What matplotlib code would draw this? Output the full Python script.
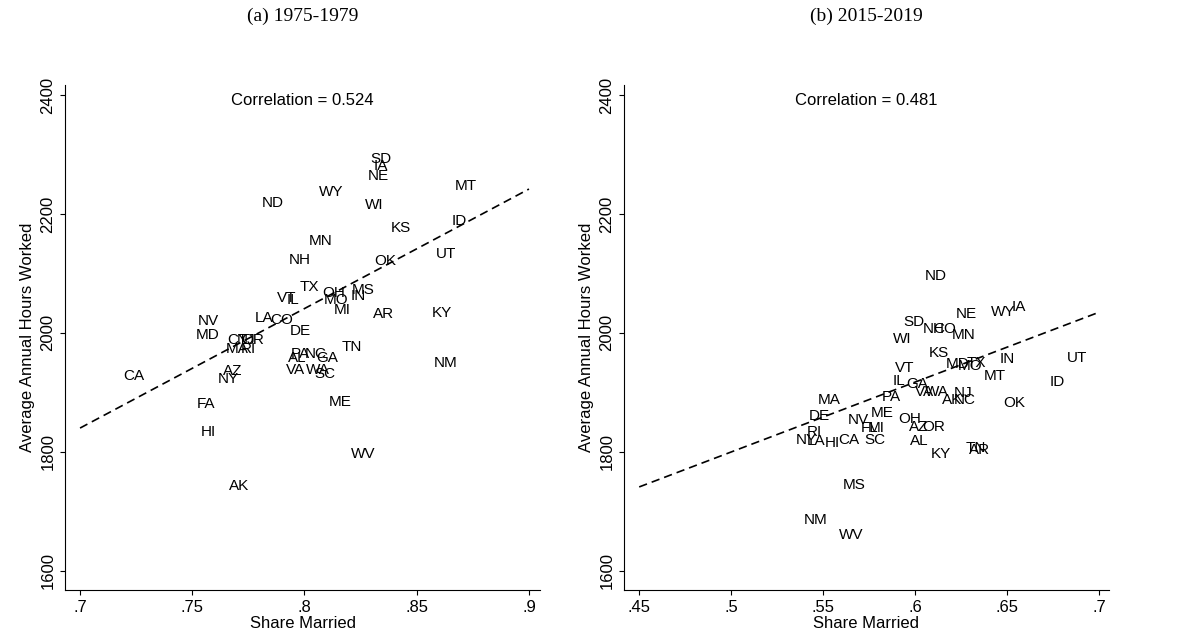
import numpy as np
from matplotlib import pyplot as plt

plt.rcParams['font.family'] = ['Liberation Sans', 'DejaVu Sans']

# panel (a) 1975-1979
states_a = ["SD", "IA", "NE", "MT", "WY", "ND", "WI", "ID", "KS", "MN", "NH", "OK", "UT",
            "TX", "VT", "IL", "OH", "MS", "IN", "MO", "MI", "AR", "KY", "LA", "CO", "NV",
            "DE", "MD", "CT", "OR", "NJ", "MA", "RI", "TN", "PA", "NC", "AL", "GA", "NM",
            "VA", "WA", "SC", "AZ", "NY", "CA", "FA", "ME", "HI", "WV", "AK"]
married_a = [.834, .834, .833, .872, .812, .786, .831, .869, .843, .807, .798, .836, .863,
             .802, .792, .795, .813, .826, .824, .814, .817, .835, .861, .782, .790, .757,
             .798, .757, .770, .777, .774, .770, .775, .821, .798, .805, .797, .810, .863,
             .796, .806, .809, .768, .766, .724, .756, .816, .757, .826, .771]
hours_a = [2292, 2280, 2264, 2247, 2237, 2218, 2216, 2188, 2176, 2155, 2123, 2121, 2133,
           2077, 2059, 2055, 2067, 2072, 2062, 2055, 2039, 2032, 2034, 2025, 2022, 2020,
           2003, 1997, 1988, 1988, 1988, 1973, 1973, 1976, 1965, 1965, 1958, 1958, 1950,
           1938, 1938, 1931, 1936, 1923, 1928, 1881, 1884, 1834, 1797, 1743]
fit_a = [(.7, 1840), (.9, 2242)]   # fitted line as shown (weighted fit)

# panel (b) 2015-2019
states_b = ["ND", "IA", "WY", "NE", "SD", "NH", "CO", "MN", "WI", "KS", "VT", "MD", "TX",
            "MO", "IN", "MT", "IL", "GA", "VA", "WA", "NJ", "AK", "NC", "OK", "UT", "ID",
            "MA", "PA", "DE", "ME", "NV", "OH", "RI", "FL", "MI", "AZ", "OR", "NY", "LA",
            "HI", "CA", "SC", "AL", "TN", "AR", "KY", "MS", "NM", "WV"]
married_b = [.611, .656, .648, .628, .599, .610, .616, .626, .593, .613, .594, .623, .633,
             .630, .650, .643, .591, .601, .605, .612, .626, .620, .627, .654, .688, .677,
             .553, .587, .548, .582, .569, .597, .545, .575, .579, .602, .610, .541, .546,
             .555, .564, .578, .602, .633, .635, .614, .567, .546, .565]
hours_b = [2096, 2044, 2035, 2032, 2018, 2007, 2007, 1996, 1989, 1966, 1941, 1948, 1949,
           1945, 1956, 1927, 1919, 1914, 1900, 1900, 1899, 1888, 1888, 1883, 1958, 1918,
           1888, 1893, 1860, 1865, 1854, 1855, 1834, 1840, 1840, 1842, 1842, 1820, 1818,
           1815, 1820, 1820, 1818, 1807, 1803, 1797, 1744, 1685, 1660]
fit_b = [(.45, 1741), (.7, 2035)]

fig = plt.figure(figsize=(11.82, 6.39), dpi=100)
ax1 = fig.add_axes([0.055, 0.077, 0.402, 0.79])
ax2 = fig.add_axes([0.528, 0.077, 0.41, 0.79])


def panel(ax, st, x, y, fit, xlim, xticks, xlabels, title, corr):
    for s, a, b in zip(st, x, y):
        ax.text(a, b, s, ha="center", va="center", fontsize=11)
    fx, fy = zip(*fit)
    ax.plot(fx, fy, "k--", lw=1.2, dashes=(5, 3))
    ax.set_xlim(*xlim)
    ax.set_ylim(1568, 2417)
    ax.set_xticks(xticks)
    ax.set_xticklabels(xlabels, fontsize=12)
    ax.set_yticks([1600, 1800, 2000, 2200, 2400])
    ax.set_yticklabels(["1600", "1800", "2000", "2200", "2400"], fontsize=12,
                       rotation=90, va="center")
    ax.spines["top"].set_visible(False)
    ax.spines["right"].set_visible(False)
    ax.set_xlabel("Share Married", fontsize=12, labelpad=1)
    ax.set_ylabel("Average Annual Hours Worked", fontsize=12)
    ax.text(0.5, 0.97, "Correlation = " + corr, transform=ax.transAxes,
            ha="center", va="center", fontsize=12)
    ax.set_title(title, fontsize=14, family="Liberation Serif", pad=46)


panel(ax1, states_a, married_a, hours_a, fit_a, (.6933, .905), [.7, .75, .8, .85, .9],
      [".7", ".75", ".8", ".85", ".9"], "(a) 1975-1979", "0.524")
panel(ax2, states_b, married_b, hours_b, fit_b, (.4418, .7051),
      [.45, .5, .55, .6, .65, .7],
      [".45", ".5", ".55", ".6", ".65", ".7"], "(b) 2015-2019", "0.481")

fig.savefig("out.png", dpi=100)
